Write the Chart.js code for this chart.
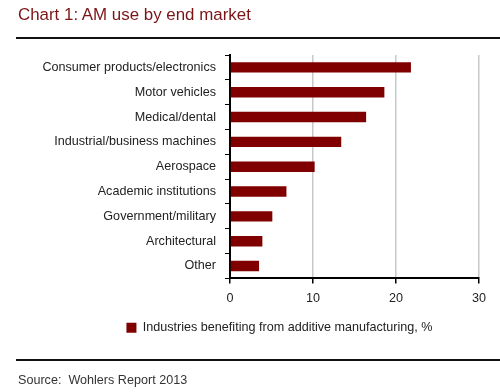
<!DOCTYPE html>
<html>
<head>
<meta charset="utf-8">
<script src="https://cdn.jsdelivr.net/npm/chart.js@4/dist/chart.umd.min.js"></script>
<style>
  html, body { margin: 0; padding: 0; background: #fff; }
  #wrap { position: relative; width: 500px; height: 392px; font-family: 'Liberation Sans', Arial, sans-serif; }
  #chart { position: absolute; left: 0; top: 0; }
  .title { position: absolute; left: 18px; top: 5px; font-size: 16.9px; color: #7b1416; }
  .rule { position: absolute; left: 16px; right: 0; height: 2px; background: #111; }
  .source { position: absolute; left: 18px; top: 373px; font-size: 12.6px; color: #333; }
</style>
</head>
<body>
<div id="wrap">
  <canvas id="chart" width="500" height="392"></canvas>
  <div class="title">Chart 1: AM use by end market</div>
  <div class="rule" style="top:37px"></div>
  <div class="rule" style="top:359px"></div>
  <div class="source">Source:&nbsp; Wohlers Report 2013</div>
</div>
<script>
(() => {
  'use strict';

  // end markets, top to bottom
  const MARKETS = [
    'Consumer products/electronics',
    'Motor vehicles',
    'Medical/dental',
    'Industrial/business machines',
    'Aerospace',
    'Academic institutions',
    'Government/military',
    'Architectural',
    'Other',
  ];

  // share of industries benefiting, %
  const SHARES = [21.8, 18.6, 16.4, 13.4, 10.2, 6.8, 5.1, 3.9, 3.5];

  const X_TICKS = [0, 10, 20, 30];

  const BAR_COLOR = '#800000';
  const FONT = { family: "'Liberation Sans', Arial, sans-serif", size: 12.6 };

  Chart.defaults.color = '#222';
  Chart.defaults.font = FONT;

  // narrow the legend box on the left so it centres under the plot like the reference
  const shiftLegend = {
    id: 'shiftLegend',
    afterLayout: (chart) => {
      if (chart.legend) chart.legend.left = 80;
    },
  };

  new Chart(document.getElementById('chart'), {
    type: 'bar',
    data: {
      labels: MARKETS,
      datasets: [{
        label: 'Industries benefiting from additive manufacturing, %',
        data: SHARES,
        backgroundColor: BAR_COLOR,
        borderWidth: 0,
        barPercentage: 0.42,
        categoryPercentage: 1,
      }],
    },
    options: {
      indexAxis: 'y',
      responsive: false,
      animation: false,
      layout: { padding: { left: 0, right: 21, top: 55, bottom: 48 } },
      scales: {
        x: {
          min: 0,
          max: 30,
          afterBuildTicks: (s) => { s.ticks = X_TICKS.map((v) => ({ value: v })); },
          afterFit: (s) => { s.height = 37; },
          grid: { color: '#c8c8c8', tickColor: '#000', tickLength: 5, lineWidth: 1.5 },
          border: { color: '#000', width: 2 },
          ticks: { padding: 8, color: '#222' },
        },
        y: {
          afterFit: (s) => { s.width = 230; },
          grid: { offset: true, drawOnChartArea: false, tickColor: '#000', tickLength: 5 },
          border: { color: '#000', width: 2 },
          ticks: { padding: 9, color: '#222' },
        },
      },
      plugins: {
        legend: {
          position: 'bottom',
          labels: { boxWidth: 10, boxHeight: 10, padding: 6, color: '#222' },
        },
        tooltip: { enabled: false },
      },
    },
    plugins: [shiftLegend],
  });
})();
</script>
</body>
</html>
